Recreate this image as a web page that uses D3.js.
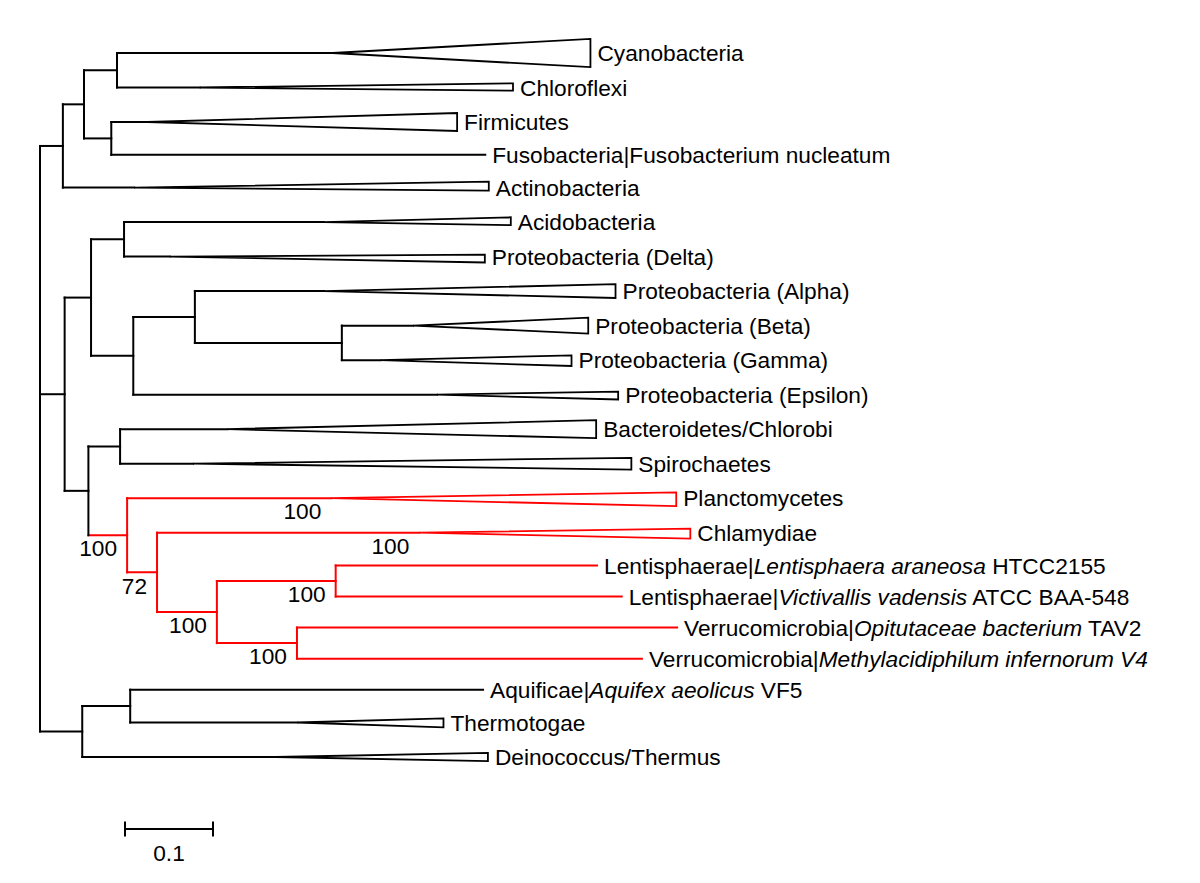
<!DOCTYPE html>
<html><head><meta charset="utf-8">
<script src="https://cdn.jsdelivr.net/npm/d3@7/dist/d3.min.js"></script>
<style>
body{margin:0;background:#fff;}
svg{display:block;}
text{font-family:"Liberation Sans",Arial,Helvetica,sans-serif;}
</style>
</head><body>
<svg id="chart" width="1200" height="883"></svg>
<script>
// ---- Tree data (branch lengths in substitutions/site) ----
const nodeIds   = ["root","A","B","C","Cyano","Chloro","D","Firm","Fuso","Actino",
                   "E","F","G","Acido","Delta","H","I","Alpha","J","Beta","Gamma","Eps",
                   "K","L","Bact","Spiro","M","Plancto","N","Chlam","O","P","Lenti1","Lenti2","Q","Verr1","Verr2",
                   "R","S","Aquif","Thermo","Deino"];
const parentIds = ["","root","A","B","C","C","B","D","D","A",
                   "root","E","F","G","G","F","H","I","I","J","J","H",
                   "E","K","L","L","K","M","M","N","N","O","P","P","O","Q","Q",
                   "root","R","S","S","R"];
const branchLen = [0,0.026,0.024,0.0375,0.245,0.094,0.031,0.041,0.425,0.081,
                   0.028,0.030,0.0375,0.227,0.052,0.048,0.070,0.147,0.167,0.081,0.044,0.345,
                   0.027,0.036,0.122,0.083,0.044,0.232,0.034,0.298,0.068,0.135,0.297,0.325,0.091,0.432,0.392,
                   0.048,0.0545,0.401,0.190,0.220];
// collapsed-clade depth (0 = single sequence or internal node)
const cladeLen  = [0,0,0,0,0.293,0.356,0,0.352,0,0.403,
                   0,0,0,0.2125,0.358,0,0,0.331,0,0.199,0.217,0.206,
                   0,0,0.419,0.498,0,0.392,0,0.308,0,0,0,0,0,0,0,
                   0,0,0,0.166,0.241];
// collapsed-clade spread above / below its stem, in leaf rows
const cladeUp   = [0,0,0,0,0.41,0.12,0,0.26,0,0.17,
                   0,0,0,0.14,0.06,0,0,0.20,0,0.23,0.14,0.09,
                   0,0,0.26,0.17,0,0.17,0,0.12,0,0,0,0,0,0,0,
                   0,0,0,0.12,0.12];
const cladeDown = [0,0,0,0,0.41,0.09,0,0.26,0,0.09,
                   0,0,0,0.09,0.17,0,0,0.20,0,0.23,0.17,0.14,
                   0,0,0.26,0.17,0,0.23,0,0.17,0,0,0,0,0,0,0,
                   0,0,0,0.14,0.12];
const tipLabels = {
  Cyano:"Cyanobacteria", Chloro:"Chloroflexi", Firm:"Firmicutes",
  Fuso:"Fusobacteria|Fusobacterium nucleatum", Actino:"Actinobacteria",
  Acido:"Acidobacteria", Delta:"Proteobacteria (Delta)", Alpha:"Proteobacteria (Alpha)",
  Beta:"Proteobacteria (Beta)", Gamma:"Proteobacteria (Gamma)", Eps:"Proteobacteria (Epsilon)",
  Bact:"Bacteroidetes/Chlorobi", Spiro:"Spirochaetes", Plancto:"Planctomycetes", Chlam:"Chlamydiae",
  Lenti1:"Lentisphaerae|*Lentisphaera araneosa* HTCC2155",
  Lenti2:"Lentisphaerae|*Victivallis vadensis* ATCC BAA-548",
  Verr1:"Verrucomicrobia|*Opitutaceae bacterium* TAV2",
  Verr2:"Verrucomicrobia|*Methylacidiphilum infernorum V4*",
  Aquif:"Aquificae|*Aquifex aeolicus* VF5", Thermo:"Thermotogae", Deino:"Deinococcus/Thermus"
};
const bootNodes  = ["M","Plancto","N","Chlam","O","P","Q"];
const bootValues = [100,100,72,100,100,100,100];
const highlighted = ["M","Plancto","N","Chlam","O","P","Lenti1","Lenti2","Q","Verr1","Verr2"];
const scaleBarValue = 0.1;

// ---- Layout ----
const FS = 22.7;
const rows = nodeIds.map((id,i)=>({id, parent: parentIds[i]||null, len: branchLen[i],
  clade: cladeLen[i], up: cladeUp[i], down: cladeDown[i]}));
const root = d3.stratify().id(d=>d.id).parentId(d=>d.parent)(rows);
root.eachBefore(n => { n.depthLen = n.parent ? n.parent.depthLen + n.data.len : 0; });

const leaves = root.leaves();
let acc = 0;
leaves.forEach((l,i)=>{
  const w = l.data.clade > 0 ? 1 : 0.9;
  if(i>0){ const pw = leaves[i-1].data.clade>0?1:0.9; acc += (w+pw)/2; }
  l.row = acc;
});
const x = d3.scaleLinear().domain([0,1]).range([40,920]);
const y = d3.scaleLinear().domain([0,acc]).range([53,757]);
const rowPx = y(1)-y(0);
leaves.forEach(l=>{ l.py = y(l.row); });
root.eachAfter(n=>{ if(n.children){ n.py = (n.children[0].py + n.children[n.children.length-1].py)/2; } });
root.each(n=>{ n.px = x(n.depthLen); });

const isRed = id => highlighted.includes(id);
const colorOf = id => isRed(id) ? "#ff0000" : "#000";

const svg = d3.select("#chart");
const g = svg.append("g");

// horizontal branches
g.selectAll("path.hbranch").data(root.descendants().filter(n=>n.parent))
  .join("path").attr("class","hbranch")
  .attr("d", n=>`M${n.parent.px},${n.py}H${n.px}`)
  .attr("fill","none").attr("stroke", n=>colorOf(n.id))
  .attr("stroke-width",2).attr("stroke-linecap","square");
// vertical connectors
g.selectAll("path.vbranch").data(root.descendants().filter(n=>n.children))
  .join("path").attr("class","vbranch")
  .attr("d", n=>`M${n.px},${n.children[0].py}V${n.children[n.children.length-1].py}`)
  .attr("fill","none").attr("stroke", n=>colorOf(n.id))
  .attr("stroke-width",2).attr("stroke-linecap","square");
// collapsed clades
const clades = leaves.filter(l=>l.data.clade>0);
g.selectAll("path.clade").data(clades).join("path").attr("class","clade")
  .attr("d", l=>{
    const x1 = x(l.depthLen + l.data.clade);
    return `M${l.px},${l.py}L${x1},${l.py - l.data.up*rowPx}L${x1},${l.py + l.data.down*rowPx}Z`;
  })
  .attr("fill","#fff").attr("stroke", l=>colorOf(l.id))
  .attr("stroke-width",1.8).attr("stroke-linejoin","miter");

// tip labels
leaves.forEach(l=>{
  const endX = x(l.depthLen + (l.data.clade||0));
  const t = g.append("text").attr("x", endX + 7).attr("y", l.py).attr("dy","0.36em")
    .attr("font-size",FS).attr("fill","#000");
  const parts = tipLabels[l.id].split("*");
  parts.forEach((p,i)=>{ if(p.length) t.append("tspan").attr("font-style", i%2 ? "italic":"normal").text(p); });
});

// bootstrap values
bootNodes.forEach((id,i)=>{
  const n = root.find(d=>d.id===id);
  g.append("text").attr("x", n.px - 10).attr("y", n.py + 13).attr("dy","0.36em")
    .attr("text-anchor","end").attr("font-size",FS).attr("fill","#000").text(bootValues[i]);
});

// scale bar
const sb = d3.scaleLinear().domain([0, scaleBarValue]).range([125, 125 + x(scaleBarValue) - x(0)]);
const sbY = 829;
const sbG = svg.append("g").attr("stroke","#000").attr("stroke-width",2);
sbG.append("line").attr("x1",sb(0)).attr("x2",sb(scaleBarValue)).attr("y1",sbY).attr("y2",sbY);
sbG.append("line").attr("x1",sb(0)).attr("x2",sb(0)).attr("y1",sbY-7.5).attr("y2",sbY+7.5);
sbG.append("line").attr("x1",sb(scaleBarValue)).attr("x2",sb(scaleBarValue)).attr("y1",sbY-7.5).attr("y2",sbY+7.5);
svg.append("text").attr("x",(sb(0)+sb(scaleBarValue))/2).attr("y",853).attr("dy","0.36em")
  .attr("text-anchor","middle").attr("font-size",FS).attr("fill","#000").text(String(scaleBarValue));
</script>
</body></html>
